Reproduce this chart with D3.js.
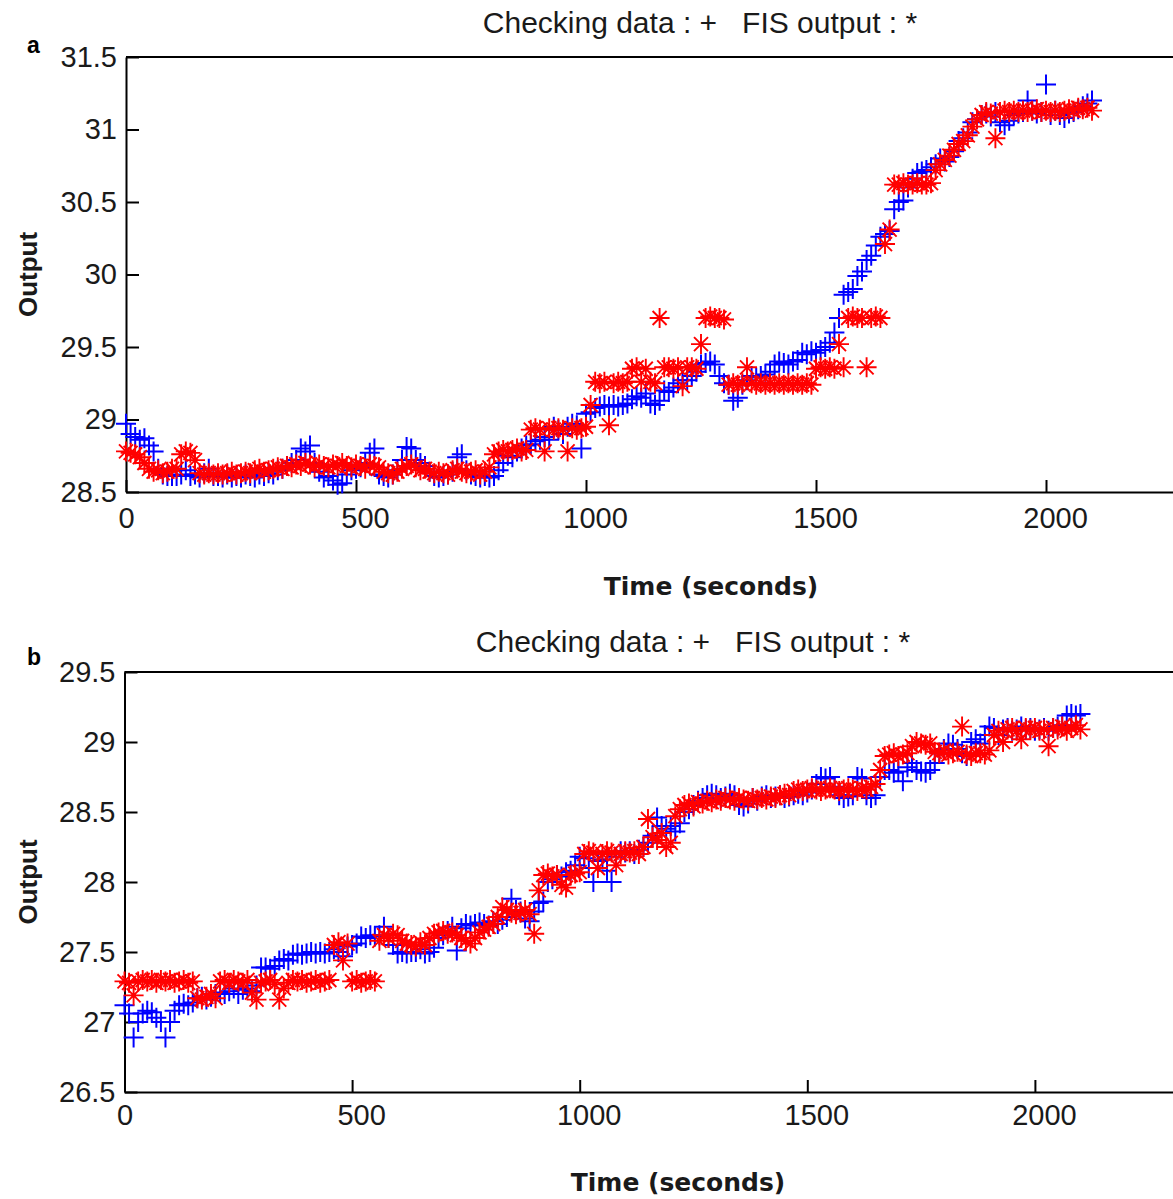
<!DOCTYPE html>
<html>
<head>
<meta charset="utf-8">
<script src="https://cdn.jsdelivr.net/npm/d3@7"></script>
<style>
  body { margin: 0; background: #fff; }
  text { font-family: "Liberation Sans", Arial, sans-serif; fill: #1a1a1a; }
</style>
</head>
<body>
<div id="chart"></div>
<script>
// One sample every 10 s, 0 .. 2100 s
const times = d3.range(0, 2101, 10);

const xTicks = [0, 500, 1000, 1500, 2000];
const yTicksA = [28.5, 29, 29.5, 30, 30.5, 31, 31.5];
const yTicksB = [26.5, 27, 27.5, 28, 28.5, 29, 29.5];

// Panel a: checking data (+)
const checkA = [
  28.97, 28.9, 28.88, 28.86, 28.87, 28.82, 28.78, 28.66, 28.62, 28.61,
  28.61, 28.61, 28.62, 28.65, 28.61, 28.62, 28.6, 28.63, 28.66, 28.61,
  28.61, 28.6, 28.62, 28.6, 28.61, 28.6, 28.62, 28.61, 28.6, 28.62,
  28.61, 28.63, 28.62, 28.65, 28.66, 28.68, 28.7, 28.72, 28.8, 28.78,
  28.82, 28.7, 28.64, 28.6, 28.61, 28.58, 28.55, 28.56, 28.62, 28.65,
  28.66, 28.67, 28.7, 28.77, 28.8, 28.62, 28.61, 28.6, 28.62, 28.65,
  28.72, 28.81, 28.8, 28.72, 28.7, 28.68, 28.64, 28.61, 28.6, 28.61,
  28.62, 28.64, 28.74, 28.76, 28.65, 28.62, 28.61, 28.6, 28.61, 28.6,
  28.61, 28.65, 28.7, 28.75, 28.74, 28.78, 28.8, 28.82, 28.83, 28.85,
  28.86, 28.88, 28.86, 28.95, 28.93, 28.9, 28.95, 28.97, 28.96, 28.8,
  29.04, 29.05, 29.08, 29.09, 29.1, 29.09, 29.1, 29.09, 29.1, 29.11,
  29.14, 29.16, 29.15, 29.18, 29.11, 29.1, 29.13, 29.2, 29.19, 29.22,
  29.25, 29.27, 29.27, 29.3, 29.33, 29.38, 29.39, 29.4, 29.38, 29.3,
  29.25, 29.24, 29.13, 29.15, 29.24, 29.27, 29.3, 29.29, 29.3, 29.31,
  29.33, 29.38, 29.4, 29.39, 29.38, 29.4, 29.41, 29.46, 29.45, 29.47,
  29.46, 29.48, 29.5, 29.53, 29.6, 29.7, 29.86, 29.88, 29.9, 29.99,
  30.02, 30.1, 30.13, 30.2, 30.26, 30.28, 30.3, 30.45, 30.5, 30.51,
  30.6, 30.66, 30.7, 30.71, 30.72, 30.74, 30.76, 30.8, 30.78, 30.81,
  30.85, 30.92, 30.94, 30.98, 31.05, 31.07, 31.1, 31.11, 31.09, 31.12,
  31.05, 31.03, 31.06, 31.1, 31.11, 31.12, 31.2, 31.13, 31.11, 31.12,
  31.31, 31.1, 31.13, 31.1, 31.08, 31.11, 31.12, 31.14, 31.16, 31.18,
  31.2
];

// Panel a: FIS output (*)
const fisA = [
  28.78, 28.77, 28.76, 28.74, 28.7, 28.66, 28.64, 28.65, 28.63, 28.64,
  28.66, 28.66, 28.76, 28.78, 28.77, 28.72, 28.63, 28.62, 28.63, 28.62,
  28.63, 28.62, 28.63, 28.64, 28.62, 28.63, 28.64, 28.63, 28.65, 28.66,
  28.64, 28.65, 28.66, 28.67, 28.66, 28.68, 28.67, 28.69, 28.68, 28.7,
  28.69, 28.67, 28.69, 28.68, 28.67, 28.69, 28.68, 28.7, 28.68, 28.67,
  28.69, 28.68, 28.66, 28.69, 28.68, 28.67, 28.64, 28.63, 28.62, 28.64,
  28.66, 28.68, 28.69, 28.67, 28.65, 28.66, 28.64, 28.63, 28.64, 28.63,
  28.62, 28.65, 28.66, 28.64, 28.63, 28.64, 28.65, 28.62, 28.64, 28.67,
  28.76, 28.78, 28.79, 28.78, 28.79, 28.8, 28.78, 28.79, 28.93, 28.94,
  28.93, 28.78, 28.94, 28.93, 28.94, 28.93, 28.78, 28.94, 28.93, 28.94,
  28.95, 29.1, 29.26, 29.25, 29.26, 28.96, 29.25, 29.26, 29.25, 29.26,
  29.35, 29.36, 29.26, 29.35, 29.26, 29.25, 29.7, 29.36, 29.36, 29.35,
  29.36, 29.23, 29.36, 29.36, 29.35, 29.52, 29.7, 29.71, 29.7, 29.7,
  29.69, 29.24, 29.25, 29.24, 29.25, 29.36, 29.25, 29.24, 29.25, 29.24,
  29.25, 29.24, 29.25, 29.24, 29.25, 29.24, 29.25, 29.24, 29.25, 29.24,
  29.35, 29.36, 29.35, 29.36, 29.35, 29.52, 29.36, 29.7, 29.71, 29.7,
  29.7, 29.36, 29.7, 29.71, 29.7, 30.21, 30.31, 30.62, 30.62, 30.63,
  30.62, 30.62, 30.63, 30.62, 30.62, 30.63, 30.72, 30.76, 30.79, 30.82,
  30.86, 30.9, 30.92, 30.96, 31.02, 31.07, 31.1, 31.12, 31.11, 30.94,
  31.12, 31.13, 31.12, 31.13, 31.12, 31.13, 31.12, 31.13, 31.14, 31.12,
  31.13, 31.12, 31.13, 31.12, 31.13, 31.14, 31.13, 31.15, 31.14, 31.15,
  31.13
];

// Panel b: checking data (+)
const checkB = [
  27.12, 27.06, 26.89, 27.0, 27.06, 27.08, 27.07, 27.03, 27.0, 26.89,
  27.0, 27.08, 27.12, 27.13, 27.12, 27.14, 27.17, 27.18, 27.16, 27.18,
  27.2, 27.21, 27.2, 27.22, 27.24, 27.2, 27.23, 27.24, 27.22, 27.26,
  27.39, 27.39, 27.38, 27.4, 27.44, 27.45, 27.44, 27.48, 27.49, 27.48,
  27.49, 27.5, 27.49, 27.5, 27.49, 27.5, 27.52, 27.5, 27.47, 27.54,
  27.55, 27.56, 27.61, 27.6, 27.62, 27.61, 27.62, 27.68, 27.6, 27.55,
  27.49, 27.5, 27.49, 27.5, 27.5, 27.52, 27.49, 27.5, 27.53, 27.6,
  27.62, 27.65, 27.68, 27.51, 27.67, 27.7, 27.69, 27.7, 27.71, 27.7,
  27.69, 27.72, 27.7, 27.73, 27.75, 27.88, 27.8, 27.79, 27.74, 27.72,
  27.79, 27.85, 27.86, 28.0, 28.02, 28.05, 28.04, 28.07, 28.08, 28.12,
  28.18, 28.17, 28.1, 28.0, 28.15, 28.16, 28.08, 28.0, 28.18, 28.22,
  28.21, 28.22, 28.2, 28.23, 28.25, 28.28, 28.33, 28.46, 28.4, 28.38,
  28.4, 28.36, 28.42, 28.5, 28.52, 28.55, 28.58, 28.6, 28.62, 28.63,
  28.62, 28.6, 28.61, 28.63, 28.62, 28.55, 28.54, 28.56, 28.6, 28.58,
  28.61, 28.62, 28.6, 28.61, 28.62, 28.6, 28.61, 28.62, 28.63, 28.62,
  28.64, 28.66, 28.7, 28.75, 28.74, 28.75, 28.68, 28.62, 28.6, 28.61,
  28.62, 28.75, 28.74, 28.62, 28.6, 28.62, 28.75, 28.8, 28.8, 28.78,
  28.79, 28.72, 28.82, 28.85, 28.8, 28.79, 28.78, 28.8, 28.85, 28.92,
  28.95, 28.99, 28.98, 28.95, 28.92, 28.9, 29.0, 29.02, 28.99, 29.05,
  29.11, 29.1, 29.05, 29.09, 29.1, 29.08, 29.09, 29.11, 29.09, 29.1,
  29.08, 29.09, 29.1, 29.08, 29.1, 29.11, 29.12, 29.19, 29.2, 29.19,
  29.2
];

// Panel b: FIS output (*)
const fisB = [
  27.29, 27.28, 27.19, 27.29, 27.3, 27.29, 27.3, 27.28, 27.3, 27.29,
  27.3, 27.28, 27.29, 27.3, 27.28, 27.29, 27.17, 27.16, 27.18, 27.2,
  27.17, 27.29, 27.3, 27.28, 27.3, 27.29, 27.28, 27.3, 27.21, 27.16,
  27.28, 27.29, 27.3, 27.27, 27.16, 27.24, 27.28, 27.3, 27.29, 27.3,
  27.28, 27.29, 27.3, 27.28, 27.29, 27.3, 27.55, 27.57, 27.44, 27.56,
  27.29, 27.3, 27.28, 27.29, 27.3, 27.29, 27.58, 27.62, 27.6, 27.63,
  27.62, 27.58, 27.56, 27.55, 27.54, 27.57, 27.55, 27.6, 27.63, 27.64,
  27.65, 27.63, 27.64, 27.62, 27.6, 27.58, 27.56, 27.6, 27.64, 27.66,
  27.68, 27.7, 27.75, 27.82, 27.8, 27.78, 27.77, 27.78, 27.8, 27.77,
  27.63, 27.94, 28.05, 28.06, 28.04, 28.05, 27.98, 27.96, 28.05, 28.06,
  28.07, 28.2, 28.22, 28.21, 28.1, 28.2, 28.22, 28.21, 28.12, 28.2,
  28.22, 28.21, 28.22, 28.2, 28.25, 28.45, 28.32, 28.3, 28.35, 28.25,
  28.28, 28.47, 28.52, 28.55, 28.56, 28.54, 28.57, 28.56, 28.58, 28.57,
  28.59, 28.58, 28.6, 28.59, 28.58, 28.6, 28.59, 28.58, 28.6, 28.59,
  28.6, 28.59, 28.61, 28.6, 28.62, 28.63, 28.62, 28.65, 28.66, 28.65,
  28.66, 28.67, 28.66, 28.65, 28.66, 28.67, 28.66, 28.65, 28.66, 28.67,
  28.66, 28.65, 28.67, 28.66, 28.68, 28.7, 28.8, 28.9, 28.91, 28.92,
  28.9, 28.91, 28.92, 28.97, 29.0, 28.99, 28.98, 28.99, 28.93, 28.92,
  28.94, 28.91, 28.92, 28.93, 29.11, 28.91, 28.9, 28.92, 28.92, 28.91,
  28.94, 29.05, 29.08, 29.0, 29.09, 29.1, 29.08, 29.02, 29.1, 29.09,
  29.1, 29.08, 29.09, 28.97, 29.1, 29.09, 29.11, 29.08, 29.1, 29.12,
  29.09
];

const W = 1173, H = 1199;
const svg = d3.select("#chart").append("svg")
    .attr("width", W)
    .attr("height", H);

// MATLAB style marker shapes
const plusPath = "M-10,0H10M0,-10V10";
const starPath = "M-10,0H10M0,-10V10M-7,-7L7,7M-7,7L7,-7";

const panels = [
  { tag: "a", check: checkA, fis: fisA, yTicks: yTicksA,
    left: 126, top: 57, bottom: 492, xLen: 1150, pad: 15,
    titleX: 700, titleY: 33, labelX: 711, labelY: 595, tagY: 53 },
  { tag: "b", check: checkB, fis: fisB, yTicks: yTicksB,
    left: 124.5, top: 672, bottom: 1092, xLen: 1138, pad: 12,
    titleX: 693, titleY: 652, labelX: 678, labelY: 1191, tagY: 665 }
];

panels.forEach(p => {
  const x = d3.scaleLinear().domain([0, 2500]).range([p.left, p.left + p.xLen]);
  const y = d3.scaleLinear().domain(d3.extent(p.yTicks)).range([p.bottom, p.top]);

  const g = svg.append("g");

  // top border of the box
  g.append("line")
      .attr("x1", p.left).attr("x2", p.left + p.xLen)
      .attr("y1", p.top).attr("y2", p.top)
      .attr("stroke", "#000").attr("stroke-width", 2);

  // x axis
  const gx = g.append("g")
      .attr("transform", `translate(0,${p.bottom})`)
      .call(d3.axisBottom(x).tickValues(xTicks).tickFormat(d => String(d))
        .tickSizeInner(-12).tickSizeOuter(0).tickPadding(p.pad));

  // y axis
  const gy = g.append("g")
      .attr("transform", `translate(${p.left},0)`)
      .call(d3.axisLeft(y).tickValues(p.yTicks).tickFormat(d => String(d))
        .tickSizeInner(-13).tickSizeOuter(0).tickPadding(9));

  [gx, gy].forEach(a => {
    a.select(".domain").attr("stroke", "#000").attr("stroke-width", 2);
    a.selectAll(".tick line").attr("stroke", "#000").attr("stroke-width", 2);
    a.selectAll(".tick text")
        .attr("fill", "#1a1a1a")
        .style("font-family", '"Liberation Sans", Arial, sans-serif')
        .style("font-size", "29px");
  });
  gx.selectAll(".tick text").attr("dx", d => d === 0 ? 0 : 9);

  // checking data (blue +) then FIS output (red *)
  g.append("g").selectAll("path")
    .data(times.map((t, i) => [t, p.check[i]]))
    .join("path")
      .attr("transform", d => `translate(${x(d[0])},${y(d[1])})`)
      .attr("d", plusPath)
      .attr("fill", "none")
      .attr("stroke", "#0000ff")
      .attr("stroke-width", 2);

  g.append("g").selectAll("path")
    .data(times.map((t, i) => [t, p.fis[i]]))
    .join("path")
      .attr("transform", d => `translate(${x(d[0])},${y(d[1])})`)
      .attr("d", starPath)
      .attr("fill", "none")
      .attr("stroke", "#ff0000")
      .attr("stroke-width", 1.9);

  // title
  g.append("text")
      .attr("x", p.titleX).attr("y", p.titleY)
      .attr("text-anchor", "middle")
      .attr("xml:space", "preserve")
      .style("font-size", "30px")
      .style("white-space", "pre")
      .text("Checking data : +   FIS output : *");

  // x label
  g.append("text")
      .attr("x", p.labelX).attr("y", p.labelY)
      .attr("text-anchor", "middle")
      .style("font-family", '"DejaVu Sans", sans-serif')
      .style("font-weight", "bold")
      .style("font-size", "25px")
      .text("Time (seconds)");

  // y label
  g.append("text")
      .attr("transform", `translate(37,${(p.top + p.bottom) / 2}) rotate(-90)`)
      .attr("text-anchor", "middle")
      .style("font-weight", "bold")
      .style("font-size", "26px")
      .text("Output");

  // panel tag
  g.append("text")
      .attr("x", 27).attr("y", p.tagY)
      .style("font-weight", "bold")
      .style("font-size", "23px")
      .style("fill", "#000")
      .text(p.tag);
});
</script>
</body>
</html>
